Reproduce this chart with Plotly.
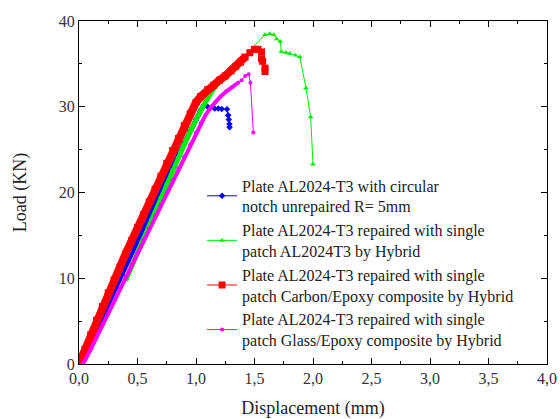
import plotly.graph_objects as go

# Plate AL2024-T3 with circular notch unrepaired
blue_x = [0.02, 0.05, 0.10, 0.15, 0.20, 0.25, 0.30, 0.35, 0.40, 0.45, 0.50, 0.55, 0.60, 0.65, 0.70, 0.75, 0.80, 0.85, 0.90, 0.95, 1.00, 1.04, 1.07,
          1.10, 1.13, 1.16, 1.19, 1.22, 1.265, 1.275, 1.28, 1.285, 1.287]
blue_y = [0.0, 0.8, 2.4, 4.1, 5.6, 7.1, 8.6, 10.1, 11.6, 13.1, 14.5, 15.9, 17.3, 18.7, 20.1, 21.6, 23.0, 24.4, 25.8, 27.2, 28.5, 29.6, 30.2,
          30.0, 29.9, 29.8, 29.8, 29.75, 29.7, 29.0, 28.5, 28.0, 27.6]
blue_ramp = 23

# Repaired with single patch AL2024T3
green_x = [0.40, 0.45, 0.50, 0.55, 0.60, 0.65, 0.70, 0.75, 0.80, 0.85, 0.90, 0.95, 1.00, 1.05, 1.10, 1.15, 1.20, 1.25, 1.30, 1.35, 1.41,
           1.59, 1.63, 1.665, 1.69, 1.72, 1.73, 1.77, 1.80, 1.85, 1.887, 1.94, 1.98, 2.00]
green_y = [9.8, 11.4, 13.0, 14.6, 16.3, 17.9, 19.5, 21.1, 22.7, 24.2, 25.6, 27.1, 28.6, 29.8, 31.0, 32.1, 32.9, 33.6, 34.3, 35.0, 35.8,
           38.4, 38.5, 38.4, 37.9, 37.6, 36.4, 36.3, 36.2, 36.0, 35.8, 32.2, 28.8, 23.3]
green_ramp = 21

# Repaired with single patch Carbon/Epoxy
red_x = [0.00, 0.05, 0.10, 0.15, 0.20, 0.25, 0.30, 0.35, 0.40, 0.45, 0.50, 0.55, 0.60, 0.65, 0.70, 0.75, 0.80, 0.85, 0.90, 0.95, 1.00,
         1.04, 1.10, 1.15, 1.20, 1.25, 1.30, 1.34, 1.38, 1.42, 1.46, 1.50, 1.53, 1.56, 1.56, 1.57, 1.59, 1.59]
red_y = [0.0, 1.7, 3.4, 5.1, 6.7, 8.3, 9.8, 11.3, 12.9, 14.4, 15.9, 17.4, 18.9, 20.4, 21.9, 23.4, 24.9, 26.3, 27.8, 29.2, 30.5,
         31.2, 32.0, 32.5, 33.1, 33.6, 34.2, 34.7, 35.2, 35.8, 36.3, 36.7, 36.7, 36.4, 35.6, 35.3, 34.5, 34.1]
red_ramp = 30

# Repaired with single patch Glass/Epoxy
pink_x = [0.03, 0.05, 0.10, 0.15, 0.20, 0.25, 0.30, 0.35, 0.40, 0.45, 0.50, 0.55, 0.60, 0.65, 0.70, 0.75, 0.80, 0.85, 0.90, 0.95, 1.00,
          1.04, 1.08, 1.12, 1.16, 1.21, 1.26, 1.31, 1.36, 1.39, 1.42, 1.45, 1.465, 1.49]
pink_y = [0.0, 0.4, 1.7, 3.1, 4.5, 5.9, 7.3, 8.8, 10.2, 11.6, 13.0, 14.4, 15.8, 17.2, 18.6, 20.0, 21.4, 22.8, 24.2, 25.6, 27.0,
          28.1, 29.0, 29.8, 30.5, 31.2, 31.8, 32.3, 32.8, 33.1, 33.6, 33.8, 32.8, 27.0]
pink_ramp = 29

names = [
    "Plate AL2024-T3 with circular<br>notch unrepaired R= 5mm",
    "Plate AL2024-T3 repaired with single<br>patch AL2024T3 by Hybrid",
    "Plate AL2024-T3 repaired with single<br>patch Carbon/Epoxy composite by Hybrid",
    "Plate AL2024-T3 repaired with single<br>patch Glass/Epoxy composite by Hybrid",
]

series = [
    (blue_x, blue_y, blue_ramp, "#0000ff", "diamond", 5, 5),
    (green_x, green_y, green_ramp, "#00ee00", "triangle-up", 5, 5),
    (red_x, red_y, red_ramp, "#ff0000", "square", 7, 8),
    (pink_x, pink_y, pink_ramp, "#ff00ff", "circle", 4, 4),
]

SERIF = "Times New Roman"

fig = go.Figure()
for i, (xs, ys, nr, col, sym, msz, bw) in enumerate(series):
    fig.add_trace(go.Scatter(x=xs[:nr], y=ys[:nr], mode="lines", line=dict(color=col, width=bw),
                             showlegend=False, hoverinfo="skip", legendgroup=f"g{i}"))
    fig.add_trace(go.Scatter(x=xs, y=ys, mode="lines+markers", name=names[i], legendgroup=f"g{i}",
                             line=dict(color=col, width=1),
                             marker=dict(symbol=sym, size=msz, color=col)))

axis_common = dict(showline=True, linecolor="black", linewidth=1, mirror="allticks",
                   ticks="inside", ticklen=6, tickcolor="black", showgrid=False, zeroline=False,
                   automargin=False,
                   tickfont=dict(family=SERIF, size=16, color="#333333"))

fig.update_xaxes(range=[0, 4.0], dtick=0.5, tickformat=".1f",
                 minor=dict(ticks="inside", ticklen=3, dtick=0.25, tickcolor="black"),
                 title=dict(text="Displacement (mm)", font=dict(family=SERIF, size=18, color="#222222"), standoff=16),
                 **axis_common)
fig.update_yaxes(range=[0, 40], dtick=10,
                 minor=dict(ticks="inside", ticklen=3, dtick=5, tickcolor="black"),
                 title=dict(text="Load (KN)", font=dict(family=SERIF, size=18, color="#222222"), standoff=27),
                 **axis_common)

fig.update_layout(
    width=560, height=419,
    margin=dict(l=79, r=13, t=21, b=55),
    plot_bgcolor="white", paper_bgcolor="white",
    separators=", ",
    font=dict(family=SERIF),
    legend=dict(x=0.263, y=0.57, xanchor="left", yanchor="top", bgcolor="rgba(0,0,0,0)",
                font=dict(family=SERIF, size=16, color="#222222"),
                tracegroupgap=0, itemwidth=30),
    showlegend=True,
)

fig.write_html("out.html", config={"displayModeBar": False},
               post_script="document.body.style.margin='0px';document.body.style.overflow='hidden';")
